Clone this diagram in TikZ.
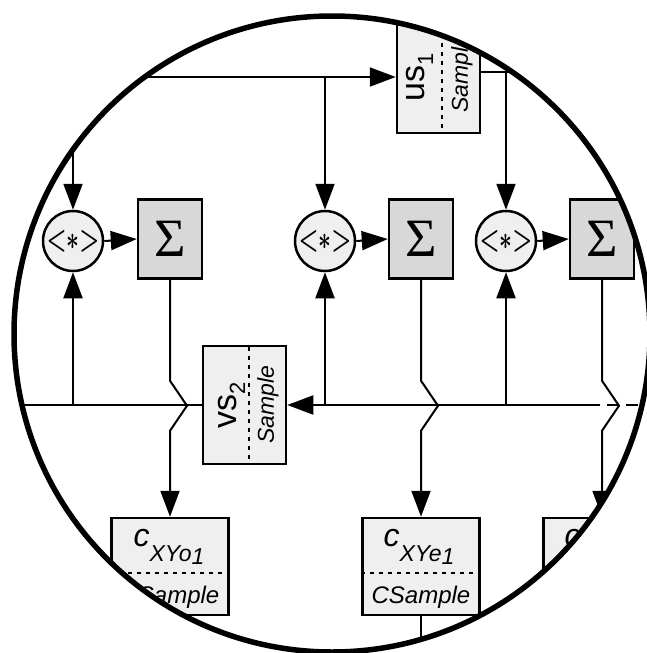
\documentclass[tikz,border=0pt]{standalone}
\usepackage{fontspec}
\setmainfont{Liberation Sans}
\newfontfamily\serifff{Liberation Serif}
\usetikzlibrary{arrows.meta}
\definecolor{lightfill}{HTML}{EFEFEF}
\definecolor{sigfill}{HTML}{D8D8D8}
\newcommand{\multsym}{\scalebox{0.9}[1.3]{\fontsize{32}{32}\selectfont\boldmath${<}{\ast}{>}$}}
\begin{document}
\begin{tikzpicture}[x=1pt,y=-1pt,
  conn/.style={line width=2pt},
  arr/.style={conn,-{Triangle[length=26pt,width=19pt]}},
  box/.style={draw,line width=2.5pt,fill=lightfill,inner sep=0pt},
  samp/.style={box,minimum width=83pt,minimum height=118pt},
  cbox/.style={box,minimum width=117pt,minimum height=97pt},
  mult/.style={draw,circle,line width=2.5pt,fill=lightfill,minimum size=60pt,inner sep=0pt},
  sig/.style={draw,line width=2.5pt,fill=sigfill,minimum width=64pt,minimum height=79pt,inner sep=0pt,font=\serifff\fontsize{54}{54}\selectfont},
  bigtxt/.style={font=\fontsize{34}{34}\selectfont,inner sep=0pt},
  smtxt/.style={font=\itshape\fontsize{23}{23}\selectfont,inner sep=0pt},
  ctxt/.style={font=\itshape\fontsize{32}{32}\selectfont,inner sep=0pt},
  cstxt/.style={font=\itshape\fontsize{24}{24}\selectfont,inner sep=0pt},
  divider/.style={line width=2.5pt,dash pattern=on 4pt off 5pt},
]
\useasboundingbox (0,0) rectangle (646,653);
\begin{scope}
\clip (332,334) circle[radius=318pt];
% nodes
\node[samp] (us1) at (438.5,74) {};
\node[samp] (vs2) at (244.5,405) {};
\node[mult] (m1) at (73,241) {\multsym};
\node[mult] (m2) at (325,241) {\multsym};
\node[mult] (m3) at (506,241) {\multsym};
\node[sig] (s1) at (170,239) {Σ};
\node[sig] (s2) at (421,239) {Σ};
\node[sig] (s3) at (602,239) {Σ};
\node[cbox] (c1) at (170,566.5) {};
\node[cbox] (c2) at (421,566.5) {};
\node[cbox] (c3) at (602,566.5) {};
% dividers
\draw[divider] (442,16) -- (442,132);
\draw[divider] (249,347) -- (249,463);
\foreach \c in {c1,c2,c3}{\draw[divider] (\c.west |- 0,573) -- (\c.east |- 0,573);}
% texts
\node[bigtxt,rotate=90,anchor=base] (us1a) at (424,77) {us\raisebox{-9pt}{\fontsize{22}{22}\selectfont 1}};
\node[smtxt,rotate=90] (us1b) at (462,74) {Sample};
\node[bigtxt,rotate=90,anchor=base] (vs2a) at (236,405) {vs\raisebox{-9pt}{\fontsize{22}{22}\selectfont 2}};
\node[smtxt,rotate=90] (vs2b) at (268,405) {Sample};
\node[ctxt,anchor=base] (c1a) at (169,546) {c\raisebox{-15pt}{\fontsize{23}{23}\selectfont XYo\raisebox{-3pt}{1}}};
\node[cstxt,anchor=base] (c1b) at (170,603) {CSample};
\node[ctxt,anchor=base] (c2a) at (419,546) {c\raisebox{-15pt}{\fontsize{23}{23}\selectfont XYe\raisebox{-3pt}{1}}};
\node[cstxt,anchor=base] (c2b) at (421,603) {CSample};
\node[ctxt,anchor=base] (c3a) at (600,546) {c\raisebox{-15pt}{\fontsize{23}{23}\selectfont XYo\raisebox{-3pt}{2}}};
\node[cstxt,anchor=base] (c3b) at (602,603) {CSample};
% coordinates
\coordinate (topl) at (73,77);
\coordinate (topr) at (640,72);
\coordinate (hl) at (0,405);
\coordinate (hr) at (700,405);
\coordinate (hd) at (588,405);
\coordinate (bot) at (421,720);
% top connectors
\draw[arr] (topl) -- (us1.west |- topl);
\draw[arr] (topl) -- (m1.north);
\draw[arr] (m2 |- topl) -- (m2.north);
\draw[conn] (us1.east |- topr) -- (topr);
\draw[arr] (m3 |- topr) -- (m3.north);
% multiplier to sigma
\draw[arr] (m1.east) -- (s1.west);
\draw[arr] (m2.east) -- (s2.west);
\draw[arr] (m3.east) -- (s3.west);
% bottom line
\draw[conn] (hl) -- (vs2.west);
\draw[arr] (hd) -- (vs2.east);
\draw[conn,dash pattern=on 12pt off 7pt] (hd) -- (hr);
\draw[arr] (m1 |- hl) -- (m1.south);
\draw[arr] (m2 |- hl) -- (m2.south);
\draw[arr] (m3 |- hl) -- (m3.south);
% sigma outputs with jumps
\foreach \s/\c in {s1/c1,s2/c2,s3/c3}{
  \draw[arr] (\s.south) -- ++(0,101) -- ++(17,25) -- ++(-17,25) -- (\c.north);
}
\draw[conn] (c2.south) -- (bot);
\end{scope}
\draw[line width=5.5pt] (332,334) circle[radius=318pt];
\end{tikzpicture}
\end{document}
